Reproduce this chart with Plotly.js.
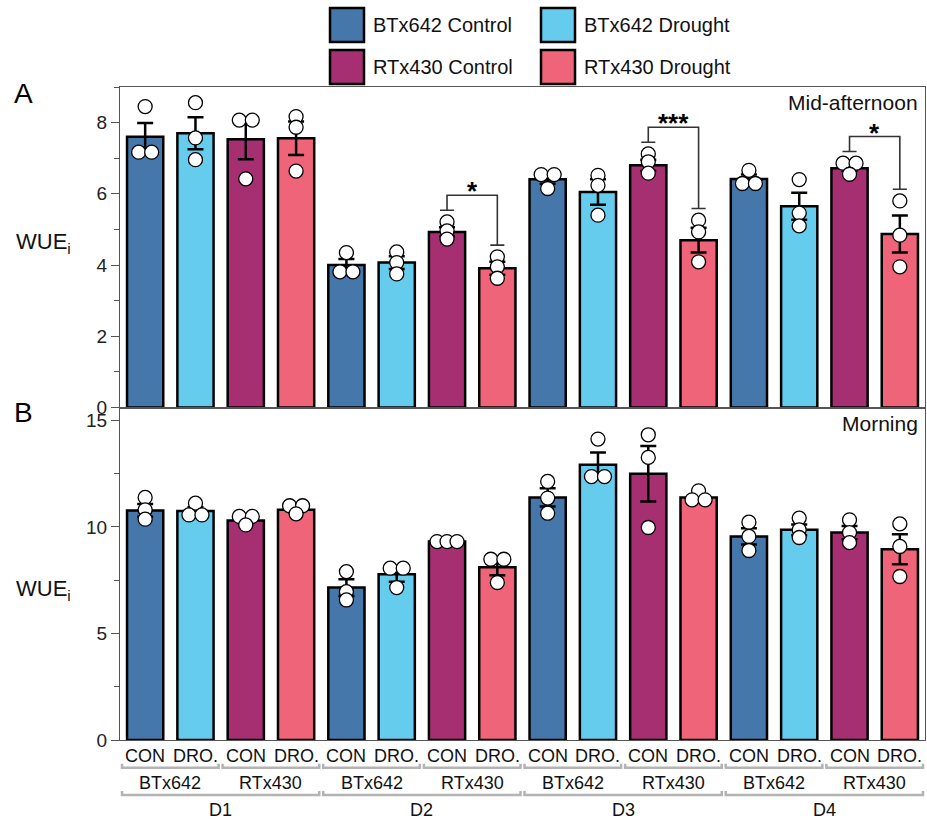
<!DOCTYPE html>
<html>
<head>
<meta charset="utf-8">
<script src="https://cdn.plot.ly/plotly-3.0.1.min.js"></script>
<style>html,body{margin:0;padding:0;background:#fff;}#chart{width:927px;height:820px;}</style>
</head>
<body>
<div id="chart"></div>
<script>
// ---------------- DATA ----------------
const days = ['D1', 'D2', 'D3', 'D4'];
const genotypes = ['BTx642', 'RTx430'];
const treatments = ['CON', 'DRO.'];
const groupNames = ['BTx642 Control', 'BTx642 Drought', 'RTx430 Control', 'RTx430 Drought'];
const groupColors = ['#4677aa', '#65ccee', '#a62f72', '#ef6479'];
const panelLabels = ['A', 'B'];
const panelTitles = ['Mid-afternoon', 'Morning'];
const yTitle = 'WUE<sub>i</sub>';

// Panel A (mid-afternoon): mean, SEM, individual points for each day
const btConA_mean = [7.60, 4.00, 6.41, 6.42];
const btConA_sem  = [0.39, 0.17, 0.13, 0.12];
const btConA_pts  = [[8.45, 7.17, 7.17], [4.35, 3.81, 3.81], [6.54, 6.54, 6.15], [6.66, 6.29, 6.29]];
const btDroA_mean = [7.70, 4.07, 6.05, 5.65];
const btDroA_sem  = [0.45, 0.18, 0.36, 0.38];
const btDroA_pts  = [[8.56, 7.57, 6.96], [4.37, 4.07, 3.75], [6.52, 6.24, 5.40], [6.40, 5.46, 5.10]];
const rtConA_mean = [7.53, 4.93, 6.80, 6.72];
const rtConA_sem  = [0.56, 0.13, 0.16, 0.08];
const rtConA_pts  = [[8.07, 8.07, 6.42], [5.21, 4.96, 4.73], [7.12, 6.90, 6.58], [6.86, 6.86, 6.55]];
const rtDroA_mean = [7.56, 3.91, 4.70, 4.87];
const rtDroA_sem  = [0.47, 0.18, 0.35, 0.52];
const rtDroA_pts  = [[8.17, 7.87, 6.64], [4.23, 3.95, 3.63], [5.26, 4.93, 4.09], [5.80, 4.84, 3.95]];

// Panel B (morning)
const btConB_mean = [10.77, 7.15, 11.38, 9.55];
const btConB_sem  = [0.30, 0.39, 0.43, 0.38];
const btConB_pts  = [[11.38, 10.80, 10.36], [7.90, 6.96, 6.57], [12.13, 11.35, 10.64], [10.22, 9.55, 8.89]];
const btDroB_mean = [10.74, 7.78, 12.91, 9.86];
const btDroB_sem  = [0.18, 0.35, 0.58, 0.25];
const btDroB_pts  = [[11.11, 10.56, 10.56], [8.06, 8.06, 7.15], [14.12, 12.36, 12.36], [10.41, 9.86, 9.50]];
const rtConB_mean = [10.30, 9.31, 12.49, 9.73];
const rtConB_sem  = [0.13, 0.05, 1.30, 0.31];
const rtConB_pts  = [[10.49, 10.49, 10.09], [9.31, 9.31, 9.31], [14.32, 13.26, 9.97], [10.33, 9.73, 9.26]];
const rtDroB_mean = [10.80, 8.11, 11.38, 8.95];
const rtDroB_sem  = [0.12, 0.38, 0.14, 0.70];
const rtDroB_pts  = [[10.99, 10.99, 10.61], [8.48, 8.48, 7.39], [11.69, 11.27, 11.27], [10.14, 9.08, 7.67]];

// Significance (panel A): RTx430 Control vs Drought
const sigDaysA = [1, 2, 3];
const sigLabelsA = ['*', '***', '*'];

// ---------------- LAYOUT CONSTANTS ----------------
const W = 927, H = 820;
const M = {l: 120, r: 2, t: 87, b: 80};
const PW = W - M.l - M.r, PH = H - M.t - M.b;
const yA_max = 9, yB_max = 15.6;
const split = (H - M.b - 407.5) / PH;
const slotPx = PW / 16;
const pxPerUnitA = ((1 - split) * PH) / yA_max;
const pxPerUnitB = (split * PH) / yB_max;
const FONT = 'Liberation Sans, Arial, Helvetica, sans-serif';
const px2x = px => (px - M.l) / PW;
const px2y = py => (H - M.b - py) / PH;

const panels = [
  {means: [btConA_mean, btDroA_mean, rtConA_mean, rtDroA_mean],
   sems: [btConA_sem, btDroA_sem, rtConA_sem, rtDroA_sem],
   pts: [btConA_pts, btDroA_pts, rtConA_pts, rtDroA_pts],
   xa: 'x', ya: 'y', ppu: pxPerUnitA},
  {means: [btConB_mean, btDroB_mean, rtConB_mean, rtDroB_mean],
   sems: [btConB_sem, btDroB_sem, rtConB_sem, rtDroB_sem],
   pts: [btConB_pts, btDroB_pts, rtConB_pts, rtDroB_pts],
   xa: 'x2', ya: 'y2', ppu: pxPerUnitB}
];

function jitter(vals, ppu) {
  const idx = vals.map((v, i) => i).sort((a, b) => vals[b] - vals[a]);
  const offs = new Array(vals.length).fill(0);
  const groups = [];
  let cur = [idx[0]];
  for (let k = 1; k < idx.length; k++) {
    if ((vals[cur[cur.length - 1]] - vals[idx[k]]) * ppu < 4) cur.push(idx[k]);
    else { groups.push(cur); cur = [idx[k]]; }
  }
  groups.push(cur);
  groups.forEach(g => {
    const n = g.length, step = n === 2 ? 13 : 10;
    g.forEach((i, j) => { offs[i] = ((j - (n - 1) / 2) * step) / slotPx; });
  });
  return offs;
}

const traces = [];
panels.forEach(p => {
  for (let g = 0; g < 4; g++) {
    traces.push({
      type: 'bar', xaxis: p.xa, yaxis: p.ya,
      x: days.map((d, i) => i * 4 + g),
      y: p.means[g],
      width: 0.72,
      name: groupNames[g],
      marker: {color: groupColors[g], line: {color: '#000', width: 2.5}},
      error_y: {type: 'data', array: p.sems[g], visible: true, color: '#000', thickness: 2.5, width: 8},
      showlegend: false, hoverinfo: 'skip'
    });
  }
  const sx = [], sy = [];
  for (let g = 0; g < 4; g++) {
    days.forEach((d, i) => {
      const vals = p.pts[g][i];
      const offs = jitter(vals, p.ppu);
      vals.forEach((v, k) => { sx.push(i * 4 + g + offs[k]); sy.push(v); });
    });
  }
  traces.push({
    type: 'scatter', mode: 'markers', xaxis: p.xa, yaxis: p.ya, x: sx, y: sy,
    marker: {size: 14, color: '#fff', line: {color: '#000', width: 1.3}},
    showlegend: false, hoverinfo: 'skip', cliponaxis: false
  });
});

const shapes = [], annotations = [];

// significance brackets (panel A)
sigDaysA.forEach((d, k) => {
  const xl = d * 4 + 2, xr = d * 4 + 3;
  const footL = Math.max(...rtConA_pts[d]) + 0.33;
  const footR = Math.max(...rtDroA_pts[d]) + 0.33;
  const top = Math.max(footL, footR) + 0.42;
  const ln = {color: '#333', width: 1.6};
  shapes.push({type: 'path', xref: 'x', yref: 'y', path: `M ${xl},${footL} L ${xl},${top} L ${xr},${top} L ${xr},${footR}`, line: ln});
  shapes.push({type: 'line', xref: 'x', yref: 'y', x0: xl - 0.14, x1: xl + 0.14, y0: footL, y1: footL, line: ln});
  shapes.push({type: 'line', xref: 'x', yref: 'y', x0: xr - 0.14, x1: xr + 0.14, y0: footR, y1: footR, line: ln});
  annotations.push({xref: 'x', yref: 'y', x: (xl + xr) / 2, y: top, text: '<b>' + sigLabelsA[k] + '</b>', showarrow: false,
    yanchor: 'middle', yshift: 4, font: {family: FONT, size: 26, color: '#000'}});
});

// category labels beneath panel B
const gray = '#b3b3b3';
function bracket(x0, x1, py) {
  const y = px2y(py), yu = px2y(py - 4);
  shapes.push({type: 'path', xref: 'x2', yref: 'paper', path: `M ${x0},${yu} L ${x0},${y} L ${x1},${y} L ${x1},${yu}`,
    line: {color: gray, width: 2.5}});
}
days.forEach((d, di) => {
  genotypes.forEach((gname, gi) => {
    const base = di * 4 + gi * 2;
    treatments.forEach((t, ti) => {
      annotations.push({xref: 'x2', yref: 'paper', x: base + ti, y: px2y(755.7), text: t, showarrow: false,
        xanchor: 'center', yanchor: 'middle', font: {family: FONT, size: 18, color: '#111'}});
    });
    bracket(base - 0.46, base + 1.46, 767.7);
    annotations.push({xref: 'x2', yref: 'paper', x: base + 0.5, y: px2y(783), text: gname, showarrow: false,
      xanchor: 'center', yanchor: 'middle', font: {family: FONT, size: 18, color: '#111'}});
  });
  bracket(di * 4 - 0.46, di * 4 + 3.46, 795);
  annotations.push({xref: 'x2', yref: 'paper', x: di * 4 + 1.5, y: px2y(810), text: d, showarrow: false,
    xanchor: 'center', yanchor: 'middle', font: {family: FONT, size: 18, color: '#111'}});
});

// legend (manual, large swatches)
const legPos = [[330, 8], [541, 8], [330, 50], [541, 50]];
groupNames.forEach((n, g) => {
  const [lx, ly] = legPos[g];
  shapes.push({type: 'rect', xref: 'paper', yref: 'paper', x0: px2x(lx), x1: px2x(lx + 34), y0: px2y(ly), y1: px2y(ly + 34),
    fillcolor: groupColors[g], line: {color: '#000', width: 2.5}});
  annotations.push({xref: 'paper', yref: 'paper', x: px2x(lx + 41), y: px2y(ly + 17), text: n, showarrow: false,
    xanchor: 'left', yanchor: 'middle', font: {family: FONT, size: 20, color: '#111'}});
});

// panel letters, y titles, panel titles
const letterPos = [93, 412];
const wuePos = [243, 590];
const titlePos = [102, 423];
[0, 1].forEach(i => {
  annotations.push({xref: 'paper', yref: 'paper', x: px2x(12), y: px2y(letterPos[i]), text: panelLabels[i], showarrow: false,
    xanchor: 'left', yanchor: 'middle', font: {family: FONT, size: 28, color: '#000'}});
  annotations.push({xref: 'paper', yref: 'paper', x: px2x(14), y: px2y(wuePos[i]), text: yTitle, showarrow: false,
    xanchor: 'left', yanchor: 'middle', font: {family: FONT, size: 22, color: '#111'}});
  annotations.push({xref: 'paper', yref: 'paper', x: px2x(920), y: px2y(titlePos[i]), text: panelTitles[i], showarrow: false,
    xanchor: 'right', yanchor: 'middle', font: {family: FONT, size: 21, color: '#111'}});
});

const axLine = '#555';
const xBase = {range: [-0.5, 15.5], showticklabels: false, ticks: '', showgrid: false, zeroline: false,
  showline: true, mirror: true, linecolor: axLine, linewidth: 1, fixedrange: true};
const yBase = {ticks: 'outside', ticklen: 8, tickwidth: 1, tickcolor: axLine, showline: true, mirror: true,
  linecolor: axLine, linewidth: 1, showgrid: false, zeroline: false, tick0: 0,
  tickfont: {family: FONT, size: 19, color: '#222'}, fixedrange: true};

const layout = {
  width: W, height: H, margin: M, paper_bgcolor: '#fff', plot_bgcolor: '#fff',
  barmode: 'overlay', showlegend: false, font: {family: FONT},
  xaxis: Object.assign({}, xBase, {domain: [0, 1], anchor: 'y'}),
  xaxis2: Object.assign({}, xBase, {domain: [0, 1], anchor: 'y2'}),
  yaxis: Object.assign({}, yBase, {domain: [split, 1], anchor: 'x', range: [0, yA_max], dtick: 2,
    minor: {dtick: 1, ticks: 'outside', ticklen: 5, tickcolor: axLine, showgrid: false}}),
  yaxis2: Object.assign({}, yBase, {domain: [0, split], anchor: 'x2', range: [0, yB_max], dtick: 5,
    minor: {dtick: 2.5, ticks: 'outside', ticklen: 5, tickcolor: axLine, showgrid: false}}),
  shapes: shapes, annotations: annotations
};

Plotly.newPlot('chart', traces, layout, {staticPlot: true, displayModeBar: false});
</script>
</body>
</html>
